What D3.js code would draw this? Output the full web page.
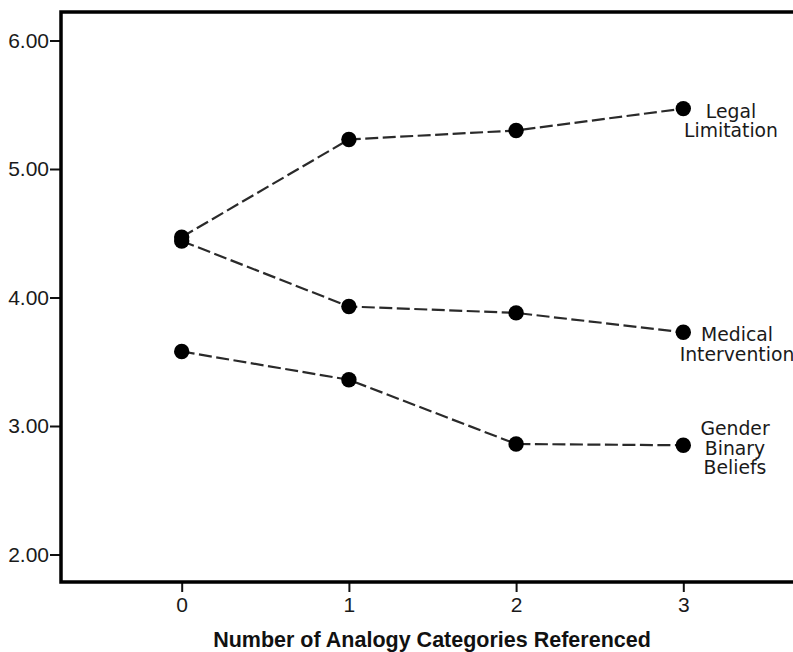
<!DOCTYPE html>
<html>
<head>
<meta charset="utf-8">
<script src="https://cdn.jsdelivr.net/npm/d3@7"></script>
<style>
  html, body { margin: 0; padding: 0; background: #fff; }
  svg { display: block; }
</style>
</head>
<body>
<div id="chart"></div>
<script>
const categories = [0, 1, 2, 3];
const legalLimitation = [4.47, 5.23, 5.30, 5.47];
const medicalIntervention = [4.44, 3.93, 3.88, 3.73];
const genderBinaryBeliefs = [3.58, 3.36, 2.86, 2.85];
const yTicks = [2, 3, 4, 5, 6];
const seriesNames = [['Legal', 'Limitation'], ['Medical', 'Intervention'], ['Gender', 'Binary', 'Beliefs']];
const xTitle = 'Number of Analogy Categories Referenced';

const series = [legalLimitation, medicalIntervention, genderBinaryBeliefs];

const width = 793;
const height = 652;
const frame = { left: 61, top: 12, bottom: 582 };

const x = d3.scaleLinear().domain([0, 3]).range([181.7, 683.3]);
const y = d3.scaleLinear().domain([2, 6]).range([554.5, 40.5]);

const svg = d3.select('#chart')
  .append('svg')
  .attr('width', width)
  .attr('height', height);

// y axis ticks + labels
const yAxis = svg.append('g')
  .attr('transform', `translate(${frame.left},0)`)
  .call(d3.axisLeft(y).tickValues(yTicks).tickSize(11).tickPadding(1).tickFormat(d3.format('.2f')));
yAxis.select('.domain').remove();
yAxis.selectAll('line').attr('stroke', '#111').attr('stroke-width', 2);
yAxis.selectAll('text')
  .attr('font-family', '"Liberation Sans", Arial, sans-serif')
  .attr('font-size', 21)
  .attr('fill', '#1a1a1a');

// x axis ticks + labels
const xAxis = svg.append('g')
  .attr('transform', `translate(0,${frame.bottom})`)
  .call(d3.axisBottom(x).tickValues(categories).tickSize(10).tickPadding(5).tickFormat(d3.format('d')));
xAxis.select('.domain').remove();
xAxis.selectAll('line').attr('stroke', '#111').attr('stroke-width', 2);
xAxis.selectAll('text')
  .attr('font-family', '"Liberation Sans", Arial, sans-serif')
  .attr('font-size', 21)
  .attr('fill', '#1a1a1a');

// frame (right side runs off the picture)
svg.append('path')
  .attr('d', `M${width + 10},${frame.top}H${frame.left}V${frame.bottom}H${width + 10}`)
  .attr('fill', 'none')
  .attr('stroke', '#000')
  .attr('stroke-width', 3.5);

const line = d3.line()
  .x((d, i) => x(categories[i]))
  .y((d) => y(d));

svg.selectAll('path.series')
  .data(series)
  .enter()
  .append('path')
  .attr('class', 'series')
  .attr('d', line)
  .attr('fill', 'none')
  .attr('stroke', '#2a2a2a')
  .attr('stroke-width', 2.2)
  .attr('stroke-dasharray', '13,4.5');

series.forEach((values) => {
  svg.selectAll(null)
    .data(values)
    .enter()
    .append('circle')
    .attr('cx', (d, i) => x(categories[i]))
    .attr('cy', (d) => y(d))
    .attr('r', 7.7)
    .attr('fill', '#000');
});

// end labels
const labelX = [731, 737, 735];
series.forEach((values, s) => {
  const lines = seriesNames[s];
  const yEnd = y(values[values.length - 1]);
  const first = yEnd + 9 - (lines.length - 2) * 19;
  const t = svg.append('text')
    .attr('text-anchor', 'middle')
    .attr('font-family', '"DejaVu Sans", sans-serif')
    .attr('font-size', 18.8)
    .attr('fill', '#1a1a1a');
  lines.forEach((txt, i) => {
    t.append('tspan')
      .attr('x', labelX[s])
      .attr('y', first + i * 19.5)
      .text(txt);
  });
});

svg.append('text')
  .attr('x', 432)
  .attr('y', 647)
  .attr('text-anchor', 'middle')
  .attr('font-family', '"Liberation Sans", Arial, sans-serif')
  .attr('font-weight', 'bold')
  .attr('font-size', 21.5)
  .attr('fill', '#111')
  .text(xTitle);
</script>
</body>
</html>
